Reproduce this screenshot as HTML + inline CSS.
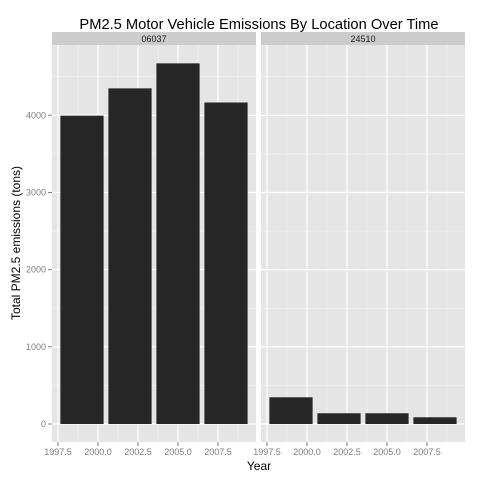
<!DOCTYPE html>
<html><head><meta charset="utf-8"><style>body{margin:0;background:#fff}svg{display:block;font-family:"Liberation Sans",sans-serif}</style></head>
<body>
<svg id="chart" width="480" height="480" viewBox="0 0 480 480"></svg>
<script>
const panels = ["06037", "24510"];
const years = [1999, 2002, 2005, 2008];
const values06037 = [3995, 4349, 4673, 4166];
const values24510 = [346, 139, 139, 87];
const xTicks = [1997.5, 2000.0, 2002.5, 2005.0, 2007.5];
const xTickLabels = ["1997.5", "2000.0", "2002.5", "2005.0", "2007.5"];
const yTicks = [0, 1000, 2000, 3000, 4000];

const svg = document.getElementById('chart');
const NS = 'http://www.w3.org/2000/svg';
function mk(tag, attrs, parent, text) {
  const e = document.createElementNS(NS, tag);
  for (const k in attrs) e.setAttribute(k, attrs[k]);
  if (text !== undefined) e.textContent = text;
  (parent || svg).appendChild(e);
  return e;
}
const plotTop = 45, plotBottom = 442;
const y = v => 424 - v * (308.7 / 4000);
const panelLeft = [52, 261], panelW = 204;
const xOf = (p, yr) => panelLeft[p] + 6 + (yr - 1997.5) * 16;
const series = [values06037, values24510];

let t = mk('text', {x: 259, y: 29, 'font-size': 14.7, 'text-anchor': 'middle', fill: '#000'}, svg, 'PM2.5 Motor Vehicle Emissions By Location Over Time');



panels.forEach((name, p) => {
  const L = panelLeft[p];
  const g = mk('g', {});
  
  
  const strip = mk('rect', {x: L, y: 32, width: panelW, height: 13, fill: '#cccccc'}, g);
  
  
  const st = mk('text', {x: L + panelW / 2, y: 42, 'font-size': 9, 'text-anchor': 'middle', fill: '#1a1a1a'}, g, name);
  
  
  const bg = mk('rect', {x: L, y: plotTop, width: panelW, height: plotBottom - plotTop, fill: '#e5e5e5'}, g);
  
  
  for (let i = 0; i < yTicks.length; i++) {
    const v = yTicks[i] + 500;
    if (y(v) > plotTop) mk('line', {x1: L, x2: L + panelW, y1: y(v), y2: y(v), stroke: '#f2f2f2', 'stroke-width': 0.6}, g);
  }
  for (let i = 0; i < xTicks.length; i++) {
    const xx = xOf(p, xTicks[i] + 1.25);
    if (xx < L + panelW) mk('line', {x1: xx, x2: xx, y1: plotTop, y2: plotBottom, stroke: '#f2f2f2', 'stroke-width': 0.6}, g);
  }
  yTicks.forEach(v => mk('line', {x1: L, x2: L + panelW, y1: y(v), y2: y(v), stroke: '#fff', 'stroke-width': 1.2}, g));
  xTicks.forEach((v, i) => {
    const xx = xOf(p, v);
    mk('line', {x1: xx, x2: xx, y1: plotTop, y2: plotBottom, stroke: '#fff', 'stroke-width': 1.2}, g);
    mk('line', {x1: xx, x2: xx, y1: plotBottom, y2: plotBottom + 4, stroke: '#7f7f7f', 'stroke-width': 1}, g);
    const tl = mk('text', {x: xx, y: plotBottom + 13, 'font-size': 9, 'text-anchor': 'middle', fill: '#7f7f7f'}, g, xTickLabels[i]);
    
    
  });
  years.forEach((yr, i) => {
    const v = series[p][i];
    const x0 = xOf(p, yr - 1.35), x1 = xOf(p, yr + 1.35);
    const b = mk('rect', {x: x0, y: y(v), width: x1 - x0, height: y(0) - y(v), fill: '#262626'}, g);
    
    
  });
});
yTicks.forEach(v => {
  mk('line', {x1: 48, x2: 52, y1: y(v), y2: y(v), stroke: '#7f7f7f', 'stroke-width': 1});
  const tl = mk('text', {x: 46, y: y(v) + 3, 'font-size': 9, 'text-anchor': 'end', fill: '#7f7f7f'}, svg, String(v));
  
  
});
const xt = mk('text', {x: 259, y: 470, 'font-size': 12, 'text-anchor': 'middle', fill: '#000'}, svg, 'Year');


const yt = mk('text', {x: 0, y: 0, 'font-size': 12, 'text-anchor': 'middle', fill: '#000', transform: 'translate(20,243) rotate(-90)'}, svg, 'Total PM2.5 emissions (tons)');


</script>
</body></html>
